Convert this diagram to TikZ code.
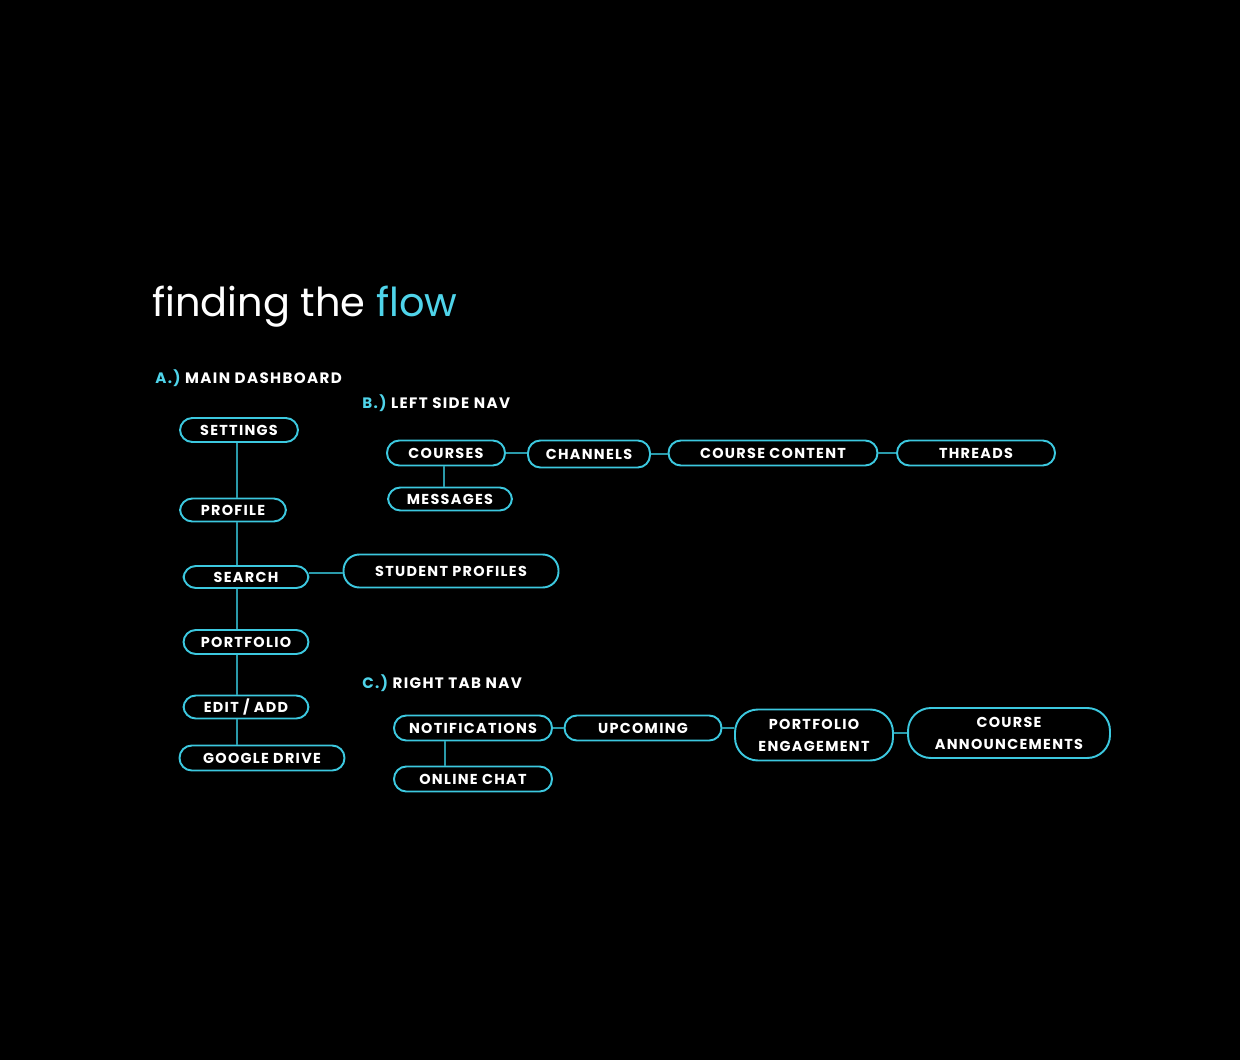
\documentclass[tikz,border=0pt]{standalone}
\usepackage{fontspec}
\setmainfont{Poppins}
\newfontfamily\pillfont[LetterSpace=9]{Poppins}
\usetikzlibrary{positioning}

\definecolor{flowcyan}{HTML}{4FD4EA}
\definecolor{pillline}{HTML}{3CC8DF}
\definecolor{linkteal}{HTML}{2A9AAA}

\tikzset{
  pill/.style={draw=pillline, line width=1.1pt, rounded corners=7pt, text=white,
    inner sep=0pt, minimum height=0.48cm, font=\pillfont\bfseries\fontsize{8.2}{10}\selectfont},
  bigpill/.style={pill, rounded corners=13pt, align=center, minimum height=1.0cm,
    font=\pillfont\bfseries\fontsize{8.2}{12.5}\selectfont},
  link/.style={draw=linkteal, line width=0.8pt},
  heading/.style={anchor=west, text=white, inner sep=0pt,
    font=\pillfont\bfseries\fontsize{8.6}{10}\selectfont}
}

\begin{document}
\begin{tikzpicture}[x=0.02cm, y=-0.02cm]
  % background
  \fill[black] (0,0) rectangle (1240,1060);
  \useasboundingbox (0,0) rectangle (1240,1060);

  % title
  \node[anchor=west, inner sep=0pt, text=white, font=\fontsize{22.7}{27}\selectfont] (title)
    at (152,307) {finding the \textcolor{flowcyan}{flow}};

  % section headings
  \node[heading] (headA) at (155,378) {\textcolor{flowcyan}{A.)} MAIN DASHBOARD};
  \node[heading] (headB) at (362,403) {\textcolor{flowcyan}{B.)} LEFT SIDE NAV};
  \node[heading] (headC) at (362,683) {\textcolor{flowcyan}{C.)} RIGHT TAB NAV};

  % A.) main dashboard
  \coordinate (spine) at (237,0);
  \node[pill, minimum width=2.36cm] (settings) at (239,430) {SETTINGS};
  \node[pill, minimum width=2.12cm, minimum height=0.46cm] (profile) at (233,510) {PROFILE};
  \node[pill, minimum width=2.50cm, minimum height=0.44cm] (search) at (246,577) {SEARCH};
  \node[pill, minimum width=4.30cm, minimum height=0.66cm, rounded corners=9pt] (students) at (451,571) {STUDENT PROFILES};
  \node[pill, minimum width=2.50cm] (portfolio) at (246,642) {PORTFOLIO};
  \node[pill, minimum width=2.50cm, minimum height=0.46cm] (editadd) at (246,707) {EDIT / ADD};
  \node[pill, minimum width=3.30cm, minimum height=0.50cm] (gdrive) at (262,758) {GOOGLE DRIVE};

  \draw[link] (settings.south -| spine) -- (profile.north -| spine);
  \draw[link] (profile.south -| spine) -- (search.north -| spine);
  \draw[link] (search.south -| spine) -- (portfolio.north -| spine);
  \draw[link] (portfolio.south -| spine) -- (editadd.north -| spine);
  \draw[link] (editadd.south -| spine) -- (gdrive.north -| spine);
  \draw[link] ([yshift=0.08cm]search.east) -- ([yshift=0.08cm]search.east -| students.west);

  % B.) left side nav
  \coordinate (stemB) at (444,0);
  \node[pill, minimum width=2.36cm, minimum height=0.50cm] (courses) at (446,453) {COURSES};
  \node[pill, minimum width=2.48cm, minimum height=0.46cm] (messages) at (450,499) {MESSAGES};
  \node[pill, minimum width=2.44cm, minimum height=0.54cm] (channels) at (589,454) {CHANNELS};
  \node[pill, minimum width=4.18cm, minimum height=0.50cm] (content) at (773,453) {COURSE CONTENT};
  \node[pill, minimum width=3.16cm, minimum height=0.50cm] (threads) at (976,453) {THREADS};

  \draw[link] (courses.south -| stemB) -- (messages.north -| stemB);
  \draw[link] (courses.east) -- (courses.east -| channels.west);
  \draw[link] (channels.east) -- (channels.east -| content.west);
  \draw[link] (content.east) -- (content.east -| threads.west);

  % C.) right tab nav
  \coordinate (stemC) at (445,0);
  \node[pill, minimum width=3.16cm, minimum height=0.50cm] (notif) at (473,728) {NOTIFICATIONS};
  \node[pill, minimum width=3.16cm, minimum height=0.50cm] (chat) at (473,779) {ONLINE CHAT};
  \node[pill, minimum width=3.14cm, minimum height=0.50cm] (upcoming) at (643,728) {UPCOMING};
  \node[bigpill, minimum width=3.16cm, minimum height=1.02cm] (engage) at (814,735) {PORTFOLIO\\ENGAGEMENT};
  \node[bigpill, minimum width=4.04cm] (announce) at (1009,733) {COURSE\\ANNOUNCEMENTS};

  \draw[link] (notif.south -| stemC) -- (chat.north -| stemC);
  \draw[link] (notif.east) -- (notif.east -| upcoming.west);
  \draw[link] (upcoming.east) -- (upcoming.east -| engage.west);
  \draw[link] (engage.east |- announce.west) -- (announce.west);
\end{tikzpicture}
\end{document}
